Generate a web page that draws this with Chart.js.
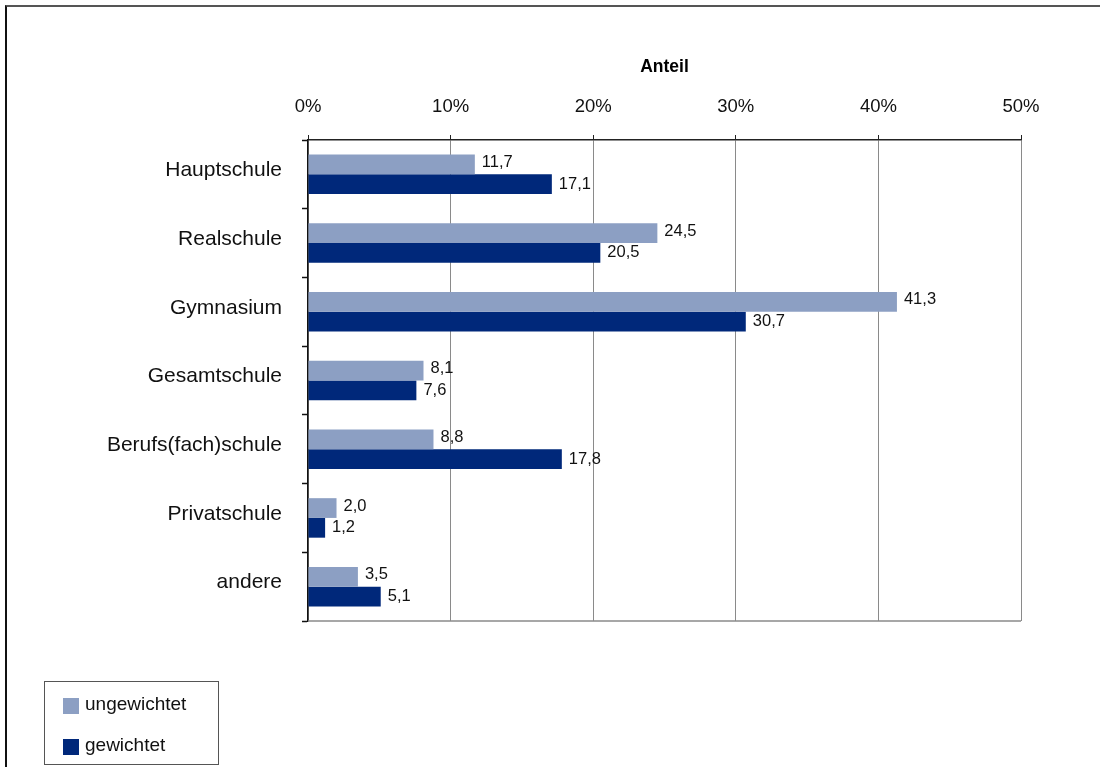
<!DOCTYPE html>
<html>
<head>
<meta charset="utf-8">
<script src="https://cdn.jsdelivr.net/npm/chart.js@4"></script>
<style>
  body { margin: 0; background: #fff; }
  #wrap { position: relative; width: 1100px; height: 767px; }
  #frame { position: absolute; left: 5px; top: 5px; width: 1100px; height: 767px;
           border-top: 2px solid #555; border-left: 2px solid #111; pointer-events: none; }
</style>
</head>
<body>
<div id="wrap">
  <canvas id="grafico" width="1100" height="767"></canvas>
  <div id="frame"></div>
</div>
<script>
const schularten = ['Hauptschule', 'Realschule', 'Gymnasium', 'Gesamtschule', 'Berufs(fach)schule', 'Privatschule', 'andere'];
const ungewichtet = [11.7, 24.5, 41.3, 8.1, 8.8, 2.0, 3.5];
const gewichtet = [17.1, 20.5, 30.7, 7.6, 17.8, 1.2, 5.1];
const achsenTicks = [0, 10, 20, 30, 40, 50];

const schrift = "'Liberation Sans', Arial, sans-serif";
Chart.defaults.font.family = schrift;
Chart.defaults.color = '#111';

// Werte rechts neben den Balken
const wertLabels = {
    id: 'wertLabels',
    afterDatasetsDraw(chart) {
        const ctx = chart.ctx;
        ctx.save();
        ctx.font = '16.5px ' + schrift;
        ctx.fillStyle = '#111';
        ctx.textAlign = 'left';
        ctx.textBaseline = 'middle';
        chart.data.datasets.forEach((ds, i) => {
            chart.getDatasetMeta(i).data.forEach((bar, j) => {
                const txt = ds.data[j].toFixed(1).replace('.', ',');
                ctx.fillText(txt, bar.x + 7, bar.y + (i === 0 ? -2 : 0));
            });
        });
        ctx.restore();
    }
};

// Rahmen unten am Diagramm + Legende im Kasten
const rahmenUndLegende = {
    id: 'rahmenUndLegende',
    afterDraw(chart) {
        const ctx = chart.ctx;
        const a = chart.chartArea;
        ctx.save();
        ctx.strokeStyle = '#8a8a8a';
        ctx.lineWidth = 1.5;
        ctx.beginPath();
        ctx.moveTo(a.left, a.bottom);
        ctx.lineTo(a.right, a.bottom);
        ctx.stroke();

        ctx.strokeStyle = '#555';
        ctx.lineWidth = 1;
        ctx.strokeRect(44.5, 681.5, 174, 83);
        ctx.font = '19px ' + schrift;
        ctx.textBaseline = 'middle';
        ctx.textAlign = 'left';
        chart.data.datasets.forEach((ds, i) => {
            const y = 698 + i * 41;
            ctx.fillStyle = ds.backgroundColor;
            ctx.fillRect(63, y, 16, 16);
            ctx.fillStyle = '#111';
            ctx.fillText(ds.label, 85, y + 7);
        });
        ctx.restore();
    }
};

new Chart(document.getElementById('grafico'), {
    type: 'bar',
    data: {
        labels: schularten,
        datasets: [
            { label: 'ungewichtet', data: ungewichtet, backgroundColor: '#8C9FC3' },
            { label: 'gewichtet', data: gewichtet, backgroundColor: '#00287A' }
        ]
    },
    options: {
        indexAxis: 'y',
        responsive: false,
        animation: false,
        events: [],
        layout: { padding: { left: 0, right: 79, top: 0, bottom: 146 } },
        datasets: { bar: { categoryPercentage: 0.575, barPercentage: 1 } },
        plugins: {
            legend: { display: false },
            tooltip: { enabled: false }
        },
        scales: {
            x: {
                position: 'top',
                min: 0,
                max: 50,
                afterBuildTicks: s => { s.ticks = achsenTicks.map(v => ({ value: v })); },
                afterFit: s => { s.height = 140; },
                ticks: {
                    callback: v => v + '%',
                    font: { size: 18.5 },
                    color: '#111',
                    padding: 17
                },
                grid: { color: '#8a8a8a', lineWidth: 1, tickLength: 5, tickColor: '#222' },
                border: { color: '#222', width: 1.5 },
                title: {
                    display: true,
                    text: 'Anteil',
                    font: { size: 17.5, weight: 'bold' },
                    color: '#000',
                    padding: { top: 57, bottom: 0 }
                }
            },
            y: {
                afterFit: s => { s.width = 308; },
                ticks: { font: { size: 21 }, color: '#111', padding: 20, labelOffset: -4 },
                grid: { drawOnChartArea: false, drawTicks: true, offset: true, tickLength: 6, tickColor: '#111', tickWidth: 1.5 },
                border: { color: '#111', width: 1.5 }
            }
        }
    },
    plugins: [wertLabels, rahmenUndLegende]
});
</script>
</body>
</html>
